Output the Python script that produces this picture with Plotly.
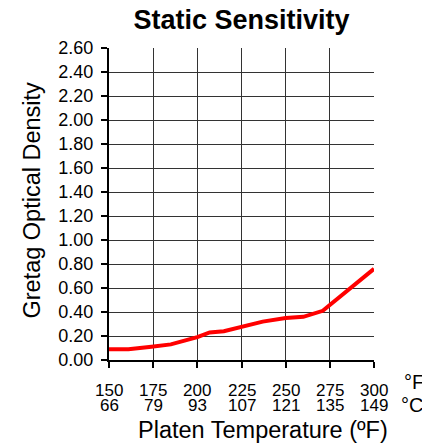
import plotly.graph_objects as go

# Data
temp_f = [150, 161, 174, 185, 200, 207, 215, 226, 237, 250, 260, 271, 300]
density = [0.09, 0.09, 0.11, 0.13, 0.19, 0.23, 0.24, 0.28, 0.32, 0.35, 0.36, 0.41, 0.76]
tick_f = [150, 175, 200, 225, 250, 275, 300]
tick_c = ["66", "79", "93", "107", "121", "135", "149"]
y_ticks = [0.0, 0.2, 0.4, 0.6, 0.8, 1.0, 1.2, 1.4, 1.6, 1.8, 2.0, 2.2, 2.4, 2.6]

FONT = "Liberation Sans, Arial, sans-serif"
W, H = 422, 436  # page body adds 8px margin

fig = go.Figure()
fig.add_trace(go.Scatter(x=temp_f, y=density, mode="lines",
                         line=dict(color="#ff0000", width=4), showlegend=False))

annotations = []
# Fahrenheit and Celsius tick label rows (placed on the x scale)
for f, c in zip(tick_f, tick_c):
    annotations.append(dict(text=str(f), xref="x", yref="paper", x=f, y=0,
                            xanchor="center", yanchor="middle", yshift=-30.5,
                            showarrow=False, font=dict(size=17)))
    annotations.append(dict(text=c, xref="x", yref="paper", x=f, y=0,
                            xanchor="center", yanchor="middle", yshift=-45,
                            showarrow=False, font=dict(size=17)))
annotations += [
    dict(text="°F", xref="x", yref="paper", x=tick_f[-1], y=0, xanchor="left",
         yanchor="middle", xshift=28, yshift=-22, showarrow=False,
         font=dict(size=20)),
    dict(text="°C", xref="x", yref="paper", x=tick_f[-1], y=0, xanchor="left",
         yanchor="middle", xshift=25, yshift=-45, showarrow=False,
         font=dict(size=20)),
    dict(text="Platen Temperature (ºF)", xref="paper", yref="paper",
         x=(263 - 109) / 265, y=0, xanchor="center", yanchor="middle",
         yshift=-70, showarrow=False, font=dict(size=23.5)),
    dict(text="Gretag Optical Density", xref="paper", yref="paper",
         x=0, y=0.511, xanchor="center", yanchor="middle", xshift=-77,
         textangle=-90, showarrow=False, font=dict(size=23.5)),
]

fig.update_layout(
    width=W, height=H,
    margin=dict(l=101, r=56, t=40, b=84),
    paper_bgcolor="white", plot_bgcolor="white",
    font=dict(family=FONT, size=18, color="black"),
    title=dict(text="<b>Static Sensitivity</b>", x=0.5, xref="paper",
               y=1 - 11.5 / H, yref="container", yanchor="middle", xanchor="center",
               font=dict(size=27, family=FONT, color="black")),
    xaxis=dict(range=[tick_f[0], tick_f[-1]], tickvals=tick_f,
               showticklabels=False,
               showgrid=True, gridcolor="#333333", gridwidth=1,
               showline=True, linecolor="black", linewidth=2,
               ticks="outside", ticklen=6, tickcolor="black", tickwidth=1.5,
               zeroline=False),
    yaxis=dict(range=[0, 2.6], tickvals=y_ticks, tickformat=".2f",
               showgrid=True, gridcolor="#333333", gridwidth=1,
               showline=True, linecolor="black", linewidth=2,
               ticks="outside", ticklen=6, tickcolor="black", tickwidth=1.5,
               zeroline=False, tickfont=dict(size=18), ticklabelstandoff=4),
    annotations=annotations,
)

fig.write_html("out.html")
